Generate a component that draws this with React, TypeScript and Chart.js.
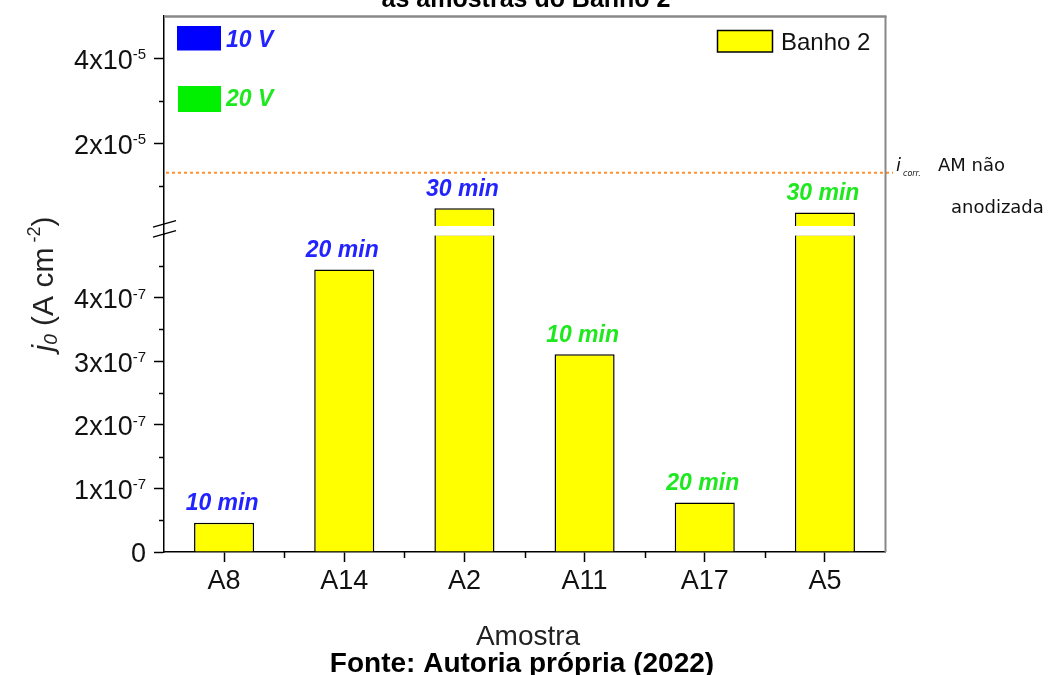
import React, { useEffect, useRef } from "react";
import { Chart, registerables } from "chart.js";

Chart.register(...registerables);

// ---------- data ----------
const samples = ["A8", "A14", "A2", "A11", "A17", "A5"];
const j0Values = [4.6e-8, 4.44e-7, 4.7e-6, 3.11e-7, 7.8e-8, 3.75e-6];
const barTimes = ["10 min", "20 min", "30 min", "10 min", "20 min", "30 min"];
const barVoltages = ["10 V", "10 V", "10 V", "20 V", "20 V", "20 V"];
const voltageLegend = ["10 V", "20 V"];
const seriesName = "Banho 2";
const icorrValue = [1.31e-5];
const breakValue = 5e-7;
const lowAxisRange = [0, 5e-7];
const highAxisRange = [-1.34e-6, 5e-5];
const lowMajorTicks = [0, 1e-7, 2e-7, 3e-7, 4e-7];
const lowTickLabels = [["0", ""], ["1x10", "-7"], ["2x10", "-7"], ["3x10", "-7"], ["4x10", "-7"]];
const lowMinorTicks = [0.5e-7, 1.5e-7, 2.5e-7, 3.5e-7, 4.5e-7];
const highMajorTicks = [2e-5, 4e-5];
const highTickLabels = [["2x10", "-5"], ["4x10", "-5"]];
const highMinorTicks = [1e-5, 3e-5];
const chartTitle = "as amostras do Banho 2";
const xTitle = "Amostra";
const sourceText = "Fonte: Autoria própria (2022)";

const lowValues = j0Values.map((v) => Math.min(v, breakValue));
const highValues = j0Values.map((v) => (v > breakValue ? v : null));

const SANS = "'Liberation Sans', Arial, sans-serif";
const DEJAVU = "'DejaVu Sans', sans-serif";
const BLUE = "#2323ff";
const GREEN = "#1ee81e";
const voltColor = (v: string) => (v === voltageLegend[0] ? BLUE : GREEN);

const decor = {
  id: "decor",
  afterDatasetsDraw(chart: any) {
    const ctx: CanvasRenderingContext2D = chart.ctx;
    const { left, right, top, bottom } = chart.chartArea;
    const xs = chart.scales.x;
    const yL = chart.scales.yLow;
    const yH = chart.scales.yHigh;
    ctx.save();

    // white gap of the broken axis
    const gTop = yH.getPixelForValue(breakValue);
    const gBot = yL.top + 1.6;
    ctx.fillStyle = "#fff";
    ctx.fillRect(left + 1, gTop, right - left - 1, gBot - gTop);

    // icorr dotted line
    const yi = yH.getPixelForValue(icorrValue[0]);
    ctx.strokeStyle = "#ff8f2e";
    ctx.lineWidth = 2;
    ctx.setLineDash([3, 3]);
    ctx.beginPath();
    ctx.moveTo(left + 2, yi);
    ctx.lineTo(right + 8, yi);
    ctx.stroke();
    ctx.setLineDash([]);

    // frame top/right
    ctx.strokeStyle = "#888";
    ctx.lineWidth = 2.5;
    ctx.beginPath();
    ctx.moveTo(left, top + 0.5);
    ctx.lineTo(right + 1.5, top + 0.5);
    ctx.stroke();
    ctx.lineWidth = 2;
    ctx.beginPath();
    ctx.moveTo(right + 0.5, top);
    ctx.lineTo(right + 0.5, bottom);
    ctx.stroke();

    // minor ticks
    ctx.strokeStyle = "#000";
    ctx.lineWidth = 1.5;
    const ax = left;
    lowMinorTicks.forEach((v) => {
      const y = Math.round(yL.getPixelForValue(v)) + 0.5;
      ctx.beginPath();
      ctx.moveTo(ax - 5, y);
      ctx.lineTo(ax, y);
      ctx.stroke();
    });
    highMinorTicks.forEach((v) => {
      const y = Math.round(yH.getPixelForValue(v)) + 0.5;
      ctx.beginPath();
      ctx.moveTo(ax - 5, y);
      ctx.lineTo(ax, y);
      ctx.stroke();
    });
    for (let i = 0; i < samples.length - 1; i++) {
      const x = Math.round((xs.getPixelForValue(i) + xs.getPixelForValue(i + 1)) / 2) + 0.5;
      ctx.beginPath();
      ctx.moveTo(x, bottom);
      ctx.lineTo(x, bottom + 6);
      ctx.stroke();
    }

    // break marks
    ctx.lineWidth = 1.3;
    ctx.beginPath();
    ctx.moveTo(left - 11, gTop + 1);
    ctx.lineTo(left + 12, gTop - 5.5);
    ctx.moveTo(left - 11, gBot + 1.5);
    ctx.lineTo(left + 12, gBot - 5);
    ctx.stroke();

    // y tick labels with superscripts
    const drawTickLabel = (y: number, base: string, sup: string) => {
      const xr = left - 18;
      ctx.textBaseline = "alphabetic";
      ctx.textAlign = "left";
      ctx.fillStyle = "#111";
      ctx.font = `15px ${SANS}`;
      const sw = sup ? ctx.measureText(sup).width : 0;
      ctx.font = `27px ${SANS}`;
      const bw = ctx.measureText(base).width;
      ctx.fillText(base, xr - sw - bw, y + 10.3);
      if (sup) {
        ctx.font = `15px ${SANS}`;
        ctx.fillText(sup, xr - sw, y + 1);
      }
    };
    lowMajorTicks.forEach((v, i) => drawTickLabel(yL.getPixelForValue(v), lowTickLabels[i][0], lowTickLabels[i][1]));
    highMajorTicks.forEach((v, i) => drawTickLabel(yH.getPixelForValue(v), highTickLabels[i][0], highTickLabels[i][1]));

    // bar labels
    const mLow = chart.getDatasetMeta(0);
    const mHigh = chart.getDatasetMeta(1);
    ctx.font = `italic bold 23px ${SANS}`;
    ctx.textAlign = "center";
    ctx.textBaseline = "middle";
    j0Values.forEach((v, i) => {
      const el = v > breakValue ? mHigh.data[i] : mLow.data[i];
      ctx.fillStyle = voltColor(barVoltages[i]);
      ctx.fillText(barTimes[i], el.x - 2, el.y - 19);
    });

    // voltage legend
    const vBoxes = [
      { x: 177, y: 26, w: 44, h: 24.5, c: "#0000ff", ty: 46.5 },
      { x: 178, y: 86, w: 43, h: 26, c: "#00f000", ty: 106 },
    ];
    vBoxes.forEach((b, i) => {
      ctx.fillStyle = b.c;
      ctx.fillRect(b.x, b.y, b.w, b.h);
      ctx.fillStyle = voltColor(voltageLegend[i]);
      ctx.textAlign = "left";
      ctx.textBaseline = "alphabetic";
      ctx.font = `italic bold 23px ${SANS}`;
      ctx.fillText(voltageLegend[i], 226, b.ty);
    });

    // series legend
    ctx.fillStyle = "#ffff00";
    ctx.fillRect(717.5, 30.5, 55, 21.5);
    ctx.strokeStyle = "#000";
    ctx.lineWidth = 1.5;
    ctx.strokeRect(717.5, 30.5, 55, 21.5);
    ctx.fillStyle = "#111";
    ctx.font = `24px ${SANS}`;
    ctx.fillText(seriesName, 781, 49.5);

    // icorr annotation
    ctx.fillStyle = "#111";
    ctx.font = `italic 18px ${DEJAVU}`;
    ctx.fillText("i", 896, 171);
    ctx.font = `italic 8px ${DEJAVU}`;
    ctx.fillText("corr.", 903, 176);
    ctx.font = `18px ${DEJAVU}`;
    ctx.fillText("AM não", 938, 171);
    ctx.fillText("anodizada", 951, 213);

    // y-axis title
    ctx.save();
    ctx.translate(42, 284);
    ctx.rotate(-Math.PI / 2);
    const pieces = [
      { t: "j", f: `italic 30px ${SANS}`, dy: 0 },
      { t: "0", f: `italic 19px ${SANS}`, dy: 4 },
      { t: " (A cm", f: `30px ${SANS}`, dy: 0 },
      { t: " -2", f: `18px ${SANS}`, dy: -13 },
      { t: ")", f: `30px ${SANS}`, dy: 0 },
    ];
    let total = 0;
    pieces.forEach((p) => {
      ctx.font = p.f;
      total += ctx.measureText(p.t).width;
    });
    let cx = -total / 2;
    ctx.fillStyle = "#222";
    ctx.textAlign = "left";
    pieces.forEach((p) => {
      ctx.font = p.f;
      ctx.fillText(p.t, cx, 10.5 + p.dy);
      cx += ctx.measureText(p.t).width;
    });
    ctx.restore();

    // titles
    ctx.textAlign = "center";
    ctx.textBaseline = "alphabetic";
    ctx.fillStyle = "#000";
    ctx.font = `bold 25px ${SANS}`;
    ctx.fillText(chartTitle, 526, 7);
    ctx.fillStyle = "#222";
    ctx.font = `28px ${SANS}`;
    ctx.fillText(xTitle, 528, 645);
    ctx.fillStyle = "#000";
    ctx.font = `bold 28px ${SANS}`;
    ctx.fillText(sourceText, 522, 672);

    ctx.restore();
  },
};

export default function App() {
  const ref = useRef<HTMLCanvasElement>(null);
  useEffect(() => {
    const barStyle = {
      backgroundColor: "#ffff00",
      borderColor: "#000",
      borderWidth: 1.5,
      barPercentage: 0.5,
      categoryPercentage: 1,
      grouped: false,
    };
    const yGrid = {
      display: true,
      drawOnChartArea: false,
      drawTicks: true,
      tickLength: 10,
      tickColor: "#000",
      tickWidth: 1.5,
    };
    const chart = new Chart(ref.current as HTMLCanvasElement, {
      type: "bar",
      data: {
        labels: samples,
        datasets: [
          { label: seriesName, data: lowValues, yAxisID: "yLow", ...barStyle } as any,
          { label: seriesName, data: highValues, yAxisID: "yHigh", base: breakValue, ...barStyle } as any,
        ],
      },
      options: {
        animation: false,
        responsive: true,
        maintainAspectRatio: false,
        devicePixelRatio: 1,
        events: [],
        layout: { padding: { top: 16, right: 173, bottom: 0, left: 0 } },
        plugins: { legend: { display: false }, tooltip: { enabled: false }, title: { display: false } },
        scales: {
          x: {
            type: "category",
            offset: true,
            grid: { display: true, drawOnChartArea: false, offset: false, tickLength: 10, tickColor: "#000", tickWidth: 1.5 },
            border: { display: true, color: "#000", width: 1.5 },
            ticks: { color: "#111", font: { family: SANS, size: 27 }, padding: 3, maxRotation: 0 },
            afterFit: (s: any) => {
              s.height = 123;
            },
          },
          yLow: {
            type: "linear",
            position: "left",
            stack: "y",
            stackWeight: 318,
            min: lowAxisRange[0],
            max: lowAxisRange[1],
            grid: yGrid,
            border: { display: true, color: "#000", width: 1.5 },
            ticks: { display: false },
            afterBuildTicks: (s: any) => {
              s.ticks = lowMajorTicks.map((v) => ({ value: v }));
            },
            afterFit: (s: any) => {
              s.width = 164;
            },
          },
          yHigh: {
            type: "linear",
            position: "left",
            stack: "y",
            stackWeight: 218,
            min: highAxisRange[0],
            max: highAxisRange[1],
            grid: yGrid,
            border: { display: true, color: "#000", width: 1.5 },
            ticks: { display: false },
            afterBuildTicks: (s: any) => {
              s.ticks = highMajorTicks.map((v) => ({ value: v }));
            },
            afterFit: (s: any) => {
              s.width = 164;
            },
          },
        } as any,
      },
      plugins: [decor],
    });
    return () => chart.destroy();
  }, []);
  return (
    <div style={{ position: "fixed", left: 0, top: 0, width: 1058, height: 675, background: "#fff" }}>
      <canvas ref={ref} />
    </div>
  );
}
